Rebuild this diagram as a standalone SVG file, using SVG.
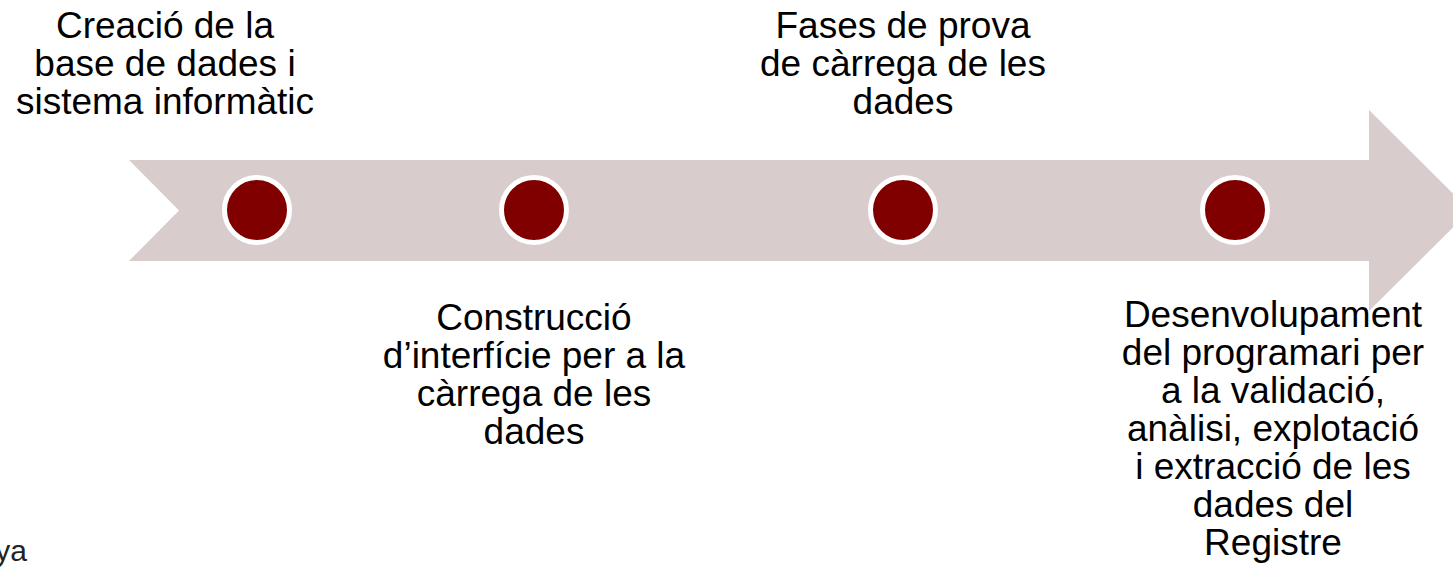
<svg xmlns="http://www.w3.org/2000/svg" width="1453" height="567" viewBox="0 0 1453 567">
<style>
.t{font-family:"Liberation Sans",Arial,sans-serif;font-size:37px;fill:#000;text-anchor:middle}
.dot{fill:#800000;stroke:#fff;stroke-width:5}
</style>
<rect width="1453" height="567" fill="#fff"/>
<g id="arrow">
<polygon points="129,160 1369,160 1369,110 1470,210.5 1369,311 1369,261 129,261 179,210.5" fill="#D8CCCC"/>
</g>
<g id="node1">
<circle class="dot" cx="257" cy="210" r="32.5"/>
<text class="t" x="165"><tspan x="165" y="38">Creació de la</tspan><tspan x="165" y="76">base de dades i</tspan><tspan x="165" y="114">sistema informàtic</tspan></text>
</g>
<g id="node2">
<circle class="dot" cx="534" cy="210" r="32.5"/>
<text class="t"><tspan x="534" y="330">Construcció</tspan><tspan x="534" y="368">d’interfície per a la</tspan><tspan x="534" y="406">càrrega de les</tspan><tspan x="534" y="444">dades</tspan></text>
</g>
<g id="node3">
<circle class="dot" cx="903" cy="210" r="32.5"/>
<text class="t"><tspan x="903" y="38">Fases de prova</tspan><tspan x="903" y="76">de càrrega de les</tspan><tspan x="903" y="114">dades</tspan></text>
</g>
<g id="node4">
<circle class="dot" cx="1235" cy="210" r="32.5"/>
<text class="t"><tspan x="1273" y="327">Desenvolupament</tspan><tspan x="1273" y="365">del programari per</tspan><tspan x="1273" y="403">a la validació,</tspan><tspan x="1273" y="441">anàlisi, explotació</tspan><tspan x="1273" y="479">i extracció de les</tspan><tspan x="1273" y="517">dades del</tspan><tspan x="1273" y="555">Registre</tspan></text>
</g>
<g id="connectors"></g>
<text x="27" y="561" style="font-family:'Liberation Sans',Arial,sans-serif;font-size:30px;text-anchor:end" fill="#222">ya</text>
</svg>
